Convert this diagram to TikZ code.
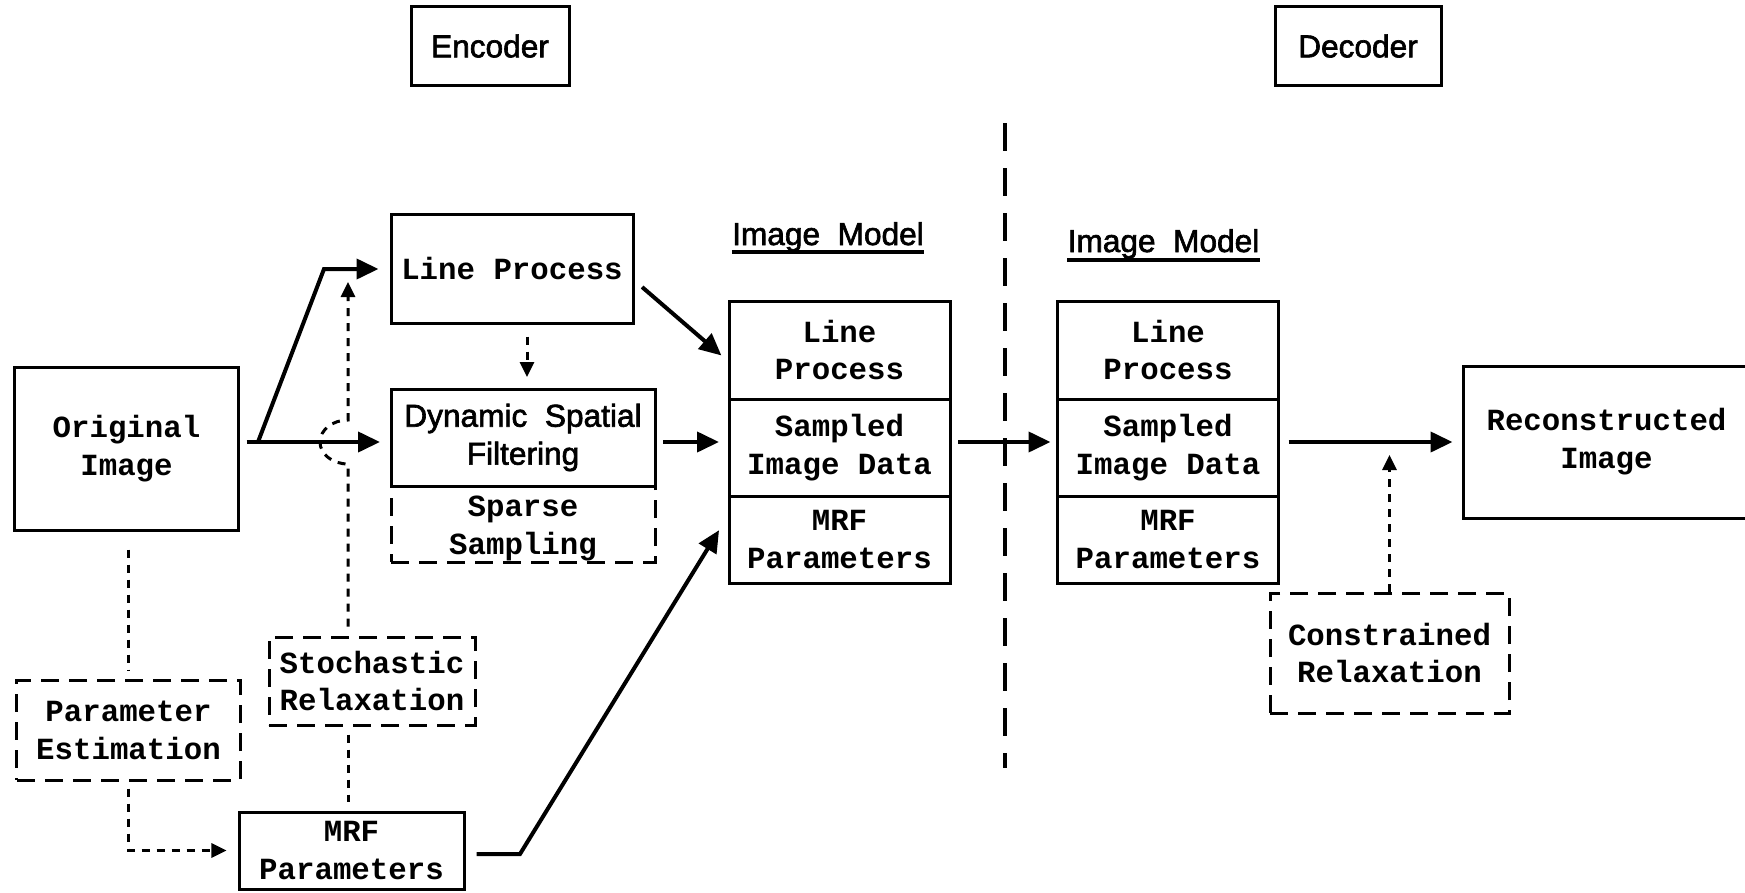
\documentclass[tikz,border=0pt]{standalone}
\usepackage{fontspec}
\setmainfont{Liberation Sans}
\setmonofont{Liberation Mono}
\newfontfamily\headfont{Liberation Sans}[FakeBold=2]
\usetikzlibrary{arrows.meta,positioning}

\newcommand{\monotext}{\fontsize{17.5}{21.6}\selectfont\ttfamily\bfseries}
\newcommand{\sanstext}{\fontsize{18}{21.6}\selectfont\headfont}

\tikzset{
	box/.style={draw, line width=0.6mm, align=center, inner sep=0.8mm, font=\monotext},
	dbox/.style={box, dash pattern=on 3.6mm off 2mm},
	cell/.style={box, outer sep=0pt, minimum width=44.2mm},
	headbox/.style={draw, line width=0.6mm, font=\sanstext},
	modeltitle/.style={inner sep=0pt, font=\sanstext},
	uline/.style={line width=0.7mm},
	flow/.style={line width=0.8mm, -{Triangle[length=4.4mm,width=4mm]}},
	dots/.style={line width=0.6mm, dash pattern=on 1.6mm off 1.4mm},
	dotflow/.style={dots, -{Triangle[length=3mm,width=2.8mm]}},
	divider/.style={line width=0.7mm, dash pattern=on 5.6mm off 3.4mm}
}

\begin{document}
\begin{tikzpicture}[x=0.2mm, y=-0.2mm]
\useasboundingbox (0,0) rectangle (1745,893);

\node[headbox, minimum width=31.6mm, minimum height=15.6mm] (enc) at (490,46) {Encoder};
\node[headbox, minimum width=33.2mm, minimum height=15.6mm] (dec) at (1358,46) {Decoder};

\coordinate (dtop) at (1005,123);
\coordinate (dbot) at (1005,768);
\draw[divider] (dtop) -- (dbot);

% encoder side
\node[box, minimum width=44.6mm, minimum height=32.6mm] (orig) at (126.5,448.5) {Original\\Image};
\node[box, minimum width=48.4mm, minimum height=21.8mm] (lp) at (512,268.5) {Line Process};
\node[box, font=\sanstext, outer sep=0pt, minimum width=52.8mm, minimum height=19.4mm] (dsf) at (523,437.5) {Dynamic\ \ Spatial\\Filtering};
\node[dbox, outer sep=0pt, minimum width=52.8mm, minimum height=15.2mm, below=0pt of dsf,
	label={[font=\monotext, align=center, yshift=-0.8mm]center:{Sparse\\Sampling}}] (sparse) {};
\node[dbox, minimum width=44.6mm, minimum height=20mm] (pe) at (128.5,730) {Parameter\\Estimation};
\node[dbox, inner sep=0.4mm, minimum width=41.2mm, minimum height=17.6mm] (sr) at (372,681) {Stochastic\\Relaxation};
\node[box, minimum width=45mm, minimum height=15.4mm] (mrf) at (351.5,850.5) {MRF\\Parameters};

\node[modeltitle, anchor=base] (im1) at (828,245) {Image\ \ Model};
\draw[uline] ([yshift=-1.4mm]im1.base west) -- ([yshift=-1.4mm]im1.base east);
\node[cell, minimum height=19.6mm] (s1a) at (839.5,350) {Line\\Process};
\node[cell, minimum height=19.4mm, below=0pt of s1a] (s1b) {Sampled\\Image Data};
\node[cell, minimum height=17.4mm, below=0pt of s1b] (s1c) {MRF\\Parameters};

% decoder side
\node[modeltitle, anchor=base] (im2) at (1163.5,252) {Image\ \ Model};
\draw[uline] ([yshift=-1.6mm]im2.base west) -- ([yshift=-1.6mm]im2.base east);
\node[cell, minimum height=19.6mm] (s2a) at (1168,350) {Line\\Process};
\node[cell, minimum height=19.4mm, below=0pt of s2a] (s2b) {Sampled\\Image Data};
\node[cell, minimum height=17.4mm, below=0pt of s2b] (s2c) {MRF\\Parameters};

\node[box, minimum width=57.4mm, minimum height=30.4mm] (rec) at (1606.5,442) {Reconstructed\\Image};
\node[dbox, minimum width=47.8mm, minimum height=24mm] (cr) at (1389.5,653) {Constrained\\Relaxation};

% connectors
\coordinate (split) at (258,442);
\coordinate (bend) at (324,269);
\coordinate (hop) at (348,442);
\coordinate (mbend) at (520,854);

\draw[flow, shorten <=1.4mm, shorten >=2.2mm] (orig.east |- split) -- (dsf.west |- split);
\draw[flow, shorten >=2.2mm] (split) -- (bend) -- (lp.west |- bend);
\draw[dotflow, shorten <=1.8mm, shorten >=2.6mm] (hop |- sr.north) -- ([yshift=-4.4mm]hop)
	arc[start angle=270, end angle=90, x radius=5.6mm, y radius=4.4mm] -- (hop |- bend);
\draw[dotflow, shorten <=2.4mm, shorten >=2.4mm] ([xshift=3mm]lp.south) -- ([xshift=3mm]lp.south |- dsf.north);

\draw[flow, shorten <=2mm, shorten >=2mm] ([yshift=-2.4mm]lp.east) -- ([yshift=-2.4mm]s1a.west);
\draw[flow, shorten <=1.6mm, shorten >=2mm] (dsf.east |- split) -- (s1b.west |- split);
\draw[flow, shorten <=2.2mm, shorten >=3.8mm] (mrf.east |- mbend) -- (mbend) -- ([yshift=5.1mm]s1c.west);
\draw[flow, shorten <=1.6mm, shorten >=1.4mm] (s1b.east |- split) -- (s2b.west |- split);
\draw[flow, shorten <=2mm, shorten >=1.8mm] (s2b.east |- split) -- (rec.west |- split);
\draw[dotflow, shorten >=2.6mm] (cr.north) -- (cr.north |- split);

\draw[dots, shorten <=3.6mm, shorten >=1.6mm] (pe.north |- orig.south) -- (pe.north);
\draw[dotflow, shorten <=1.4mm, shorten >=2.2mm] (pe.south) |- (mrf.west);
\draw[dots, shorten <=1.6mm, shorten >=1.8mm] (hop |- sr.south) -- (hop |- mrf.north);

\end{tikzpicture}
\end{document}
